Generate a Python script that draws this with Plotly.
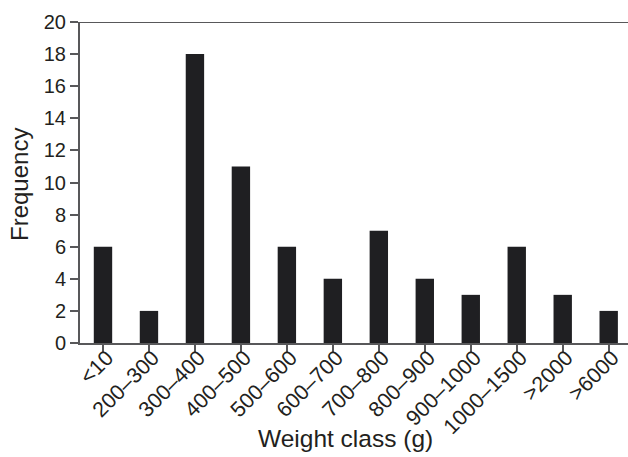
import plotly.graph_objects as go

categories = ["<10", "200\u2013300", "300\u2013400", "400\u2013500", "500\u2013600", "600\u2013700",
              "700\u2013800", "800\u2013900", "900\u20131000", "1000\u20131500", ">2000", ">6000"]
frequency = [6, 2, 18, 11, 6, 4, 7, 4, 3, 6, 3, 2]
y_ticks = [0, 2, 4, 6, 8, 10, 12, 14, 16, 18, 20]

font_family = "Liberation Sans"
text_color = "#231f20"
axis_color = "#58585a"

x_idx = list(range(len(categories)))
x_range = [-0.5, 11.42]
px_per_unit = 548 / (x_range[1] - x_range[0])
label_shift = 4 / px_per_unit  # labels sit slightly right of bar centres

fig = go.Figure()
fig.add_trace(go.Bar(
    x=x_idx,
    y=frequency,
    width=0.4,
    marker=dict(color="#1f1f22", line=dict(width=0)),
    hoverinfo="x+y",
))
# empty helper trace so that the label axis is drawn
fig.add_trace(go.Scatter(x=[], y=[], xaxis="x2", yaxis="y", showlegend=False, hoverinfo="skip"))

fig.update_layout(
    width=628, height=457,
    margin=dict(l=80, r=0, t=22, b=114, autoexpand=False),
    paper_bgcolor="white", plot_bgcolor="white",
    showlegend=False,
    font=dict(family=font_family, color=text_color, size=20),
    xaxis=dict(
        range=x_range,
        tickmode="array",
        tickvals=x_idx,
        showticklabels=False,
        tickson="boundaries",
        ticks="outside", ticklen=8, tickwidth=2, tickcolor=axis_color,
        showline=True, linecolor=axis_color, linewidth=2,
        showgrid=False, zeroline=False, automargin=False,
    ),
    xaxis2=dict(
        overlaying="x", anchor="y", side="bottom",
        range=[x_range[0] - label_shift, x_range[1] - label_shift],
        tickmode="array",
        tickvals=x_idx,
        ticktext=categories,
        tickangle=-45,
        ticks="", ticklabelstandoff=-3,
        showline=False, showgrid=False, zeroline=False, automargin=False,
        tickfont=dict(family=font_family, size=21.5, color=text_color),
    ),
    yaxis=dict(
        range=[0, 20],
        tickmode="array", tickvals=y_ticks,
        ticks="outside", ticklen=8, tickwidth=1.5, tickcolor=axis_color,
        showline=True, linecolor=axis_color, linewidth=2,
        showgrid=False, zeroline=False, automargin=False,
        tickfont=dict(family=font_family, size=20, color=text_color),
    ),
    shapes=[dict(type="line", xref="paper", yref="y", x0=0, x1=1, y0=20, y1=20,
                 line=dict(color=axis_color, width=2))],
    annotations=[
        dict(text="Weight class (g)", xref="paper", yref="paper",
             x=(345 - 80) / 548, y=-(438 - 343) / 321, xanchor="center", yanchor="middle",
             showarrow=False, font=dict(family=font_family, size=24.5, color=text_color)),
        dict(text="Frequency", xref="paper", yref="paper",
             x=-(80 - 20) / 548, y=(343 - 185) / 321, xanchor="center", yanchor="middle",
             textangle=-90, showarrow=False, font=dict(family=font_family, size=24, color=text_color)),
    ],
)

fig.write_html("out.html", config={"displayModeBar": False},
               post_script="document.body.style.margin='0';document.body.style.overflow='hidden';")
